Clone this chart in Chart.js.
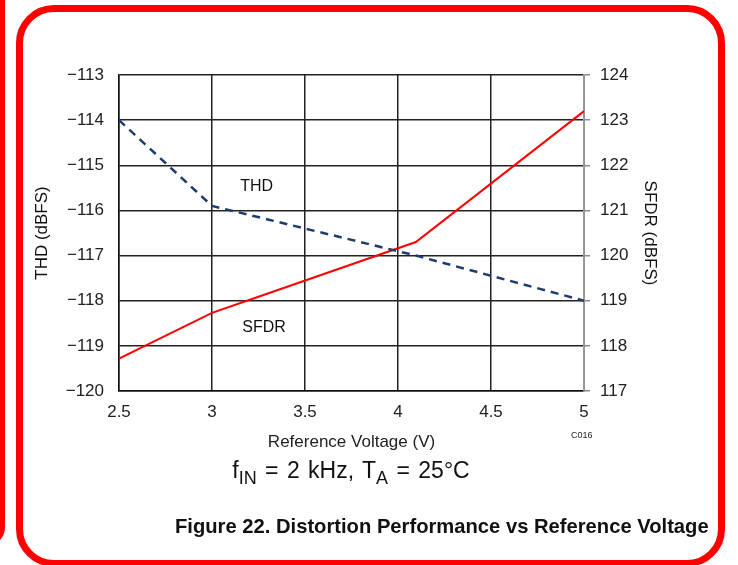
<!DOCTYPE html>
<html>
<head>
<meta charset="utf-8">
<script src="https://cdn.jsdelivr.net/npm/chart.js@4.4.0/dist/chart.umd.min.js"></script>
<style>
  html, body { margin: 0; padding: 0; background: #fff; }
  #wrap { position: relative; width: 738px; height: 565px; overflow: hidden; font-family: "Liberation Sans", Arial, sans-serif; }
  canvas { position: absolute; left: 0; top: 0; }
  .frame { position: absolute; box-sizing: border-box; border: solid #ff0000; pointer-events: none; }
  #frameMain { left: 16px; top: 5px; width: 709px; height: 562px; border-width: 7px; border-radius: 38px; }
  #frameSide { left: -100px; top: -40px; width: 105px; height: 587px; border-width: 5px; border-radius: 20px; }
  #cond { position: absolute; left: 0; width: 702px; top: 457px; text-align: center; font-size: 23px; word-spacing: 2px; color: #111; }
  #cond sub { font-size: 18px; vertical-align: -6px; line-height: 0; }
  #caption { position: absolute; left: 175px; top: 515px; font-size: 20.2px; font-weight: bold; color: #111; white-space: nowrap; }
  #code { position: absolute; left: 571px; top: 430px; font-size: 9px; color: #222; }
</style>
</head>
<body>
<div id="wrap">
  <canvas id="c" width="738" height="565"></canvas>
  <div id="cond">f<sub>IN</sub> = 2 kHz, T<sub>A</sub> = 25°C</div>
  <div id="caption">Figure 22. Distortion Performance vs Reference Voltage</div>
  <div id="code">C016</div>
  <div class="frame" id="frameSide"></div>
  <div class="frame" id="frameMain"></div>
</div>
<script>
// Reference voltage (V) at each measurement
const refVoltage = [2.5, 3.0, 3.3, 4.096, 5.0];
// Total harmonic distortion (dBFS), left axis
const thd = [-114.0, -115.9, -116.2, -117.0, -118.0];
// Spurious-free dynamic range (dBFS), right axis
const sfdr = [117.72, 118.73, 119.16, 120.3, 123.2];

// Axis ticks
const xTicks = [2.5, 3, 3.5, 4, 4.5, 5];
const thdTicks = [-113, -114, -115, -116, -117, -118, -119, -120];
const sfdrTicks = [124, 123, 122, 121, 120, 119, 118, 117];

const toPoints = (xs, ys) => xs.map((x, i) => ({ x: x, y: ys[i] }));
const fmt = v => (v < 0 ? '\u2212' + Math.abs(v) : String(v));

const FONT = '"Liberation Sans", Arial, sans-serif';

// In-plot series labels placed in data coordinates
const seriesLabels = {
  id: 'seriesLabels',
  afterDatasetsDraw(chart) {
    const { ctx, scales } = chart;
    ctx.save();
    ctx.font = '16px ' + FONT;
    ctx.fillStyle = '#111';
    ctx.textAlign = 'center';
    ctx.textBaseline = 'middle';
    ctx.fillText('THD', scales.x.getPixelForValue(3.24), scales.yThd.getPixelForValue(-115.47));
    ctx.fillText('SFDR', scales.x.getPixelForValue(3.28), scales.yThd.getPixelForValue(-118.6));
    ctx.restore();
  }
};

new Chart(document.getElementById('c'), {
  type: 'line',
  data: {
    datasets: [
      {
        label: 'THD',
        data: toPoints(refVoltage, thd),
        yAxisID: 'yThd',
        borderColor: '#1f3d6b',
        borderWidth: 2.5,
        borderDash: [8, 6],
        pointRadius: 0,
        tension: 0,
        fill: false
      },
      {
        label: 'SFDR',
        data: toPoints(refVoltage, sfdr),
        yAxisID: 'ySfdr',
        borderColor: '#ff0000',
        borderWidth: 2,
        pointRadius: 0,
        tension: 0,
        fill: false
      }
    ]
  },
  options: {
    responsive: false,
    animation: false,
    devicePixelRatio: 1,
    layout: { padding: { left: 0, right: 54, top: 75, bottom: 112 } },
    plugins: { legend: { display: false }, tooltip: { enabled: false } },
    scales: {
      x: {
        type: 'linear',
        min: 2.5, max: 5,
        afterBuildTicks: s => { s.ticks = xTicks.map(v => ({ value: v })); },
        afterFit: s => { s.height = 62; },
        ticks: { callback: v => fmt(v), font: { family: FONT, size: 17 }, color: '#222', padding: 11, maxRotation: 0 },
        grid: { color: '#222', lineWidth: 1.5, drawTicks: false },
        border: { color: '#111', width: 1.5 },
        title: { display: true, text: 'Reference Voltage (V)', font: { family: FONT, size: 17 }, color: '#222', padding: { top: 3, bottom: 0 } }
      },
      yThd: {
        type: 'linear',
        position: 'left',
        min: -120, max: -113,
        afterBuildTicks: s => { s.ticks = thdTicks.map(v => ({ value: v })); },
        afterFit: s => { s.width = 119; },
        ticks: { callback: v => fmt(v), font: { family: FONT, size: 17 }, color: '#222', padding: 15 },
        grid: { color: '#222', lineWidth: 1.5, drawTicks: false },
        border: { color: '#111', width: 1.5 },
        title: { display: true, text: 'THD (dBFS)', font: { family: FONT, size: 17 }, color: '#111', padding: { top: 32, bottom: 0 } }
      },
      ySfdr: {
        type: 'linear',
        position: 'right',
        min: 117, max: 124,
        afterBuildTicks: s => { s.ticks = sfdrTicks.map(v => ({ value: v })); },
        afterFit: s => { s.width = 100; },
        ticks: { callback: v => fmt(v), font: { family: FONT, size: 17 }, color: '#222', padding: 10 },
        grid: { drawOnChartArea: false, color: '#888', lineWidth: 1.5, tickLength: 6 },
        border: { color: '#999', width: 1.5 },
        title: { display: true, text: 'SFDR (dBFS)', font: { family: FONT, size: 17 }, color: '#111', padding: { top: 24, bottom: 0 } }
      }
    }
  },
  plugins: [seriesLabels]
});
</script>
</body>
</html>
